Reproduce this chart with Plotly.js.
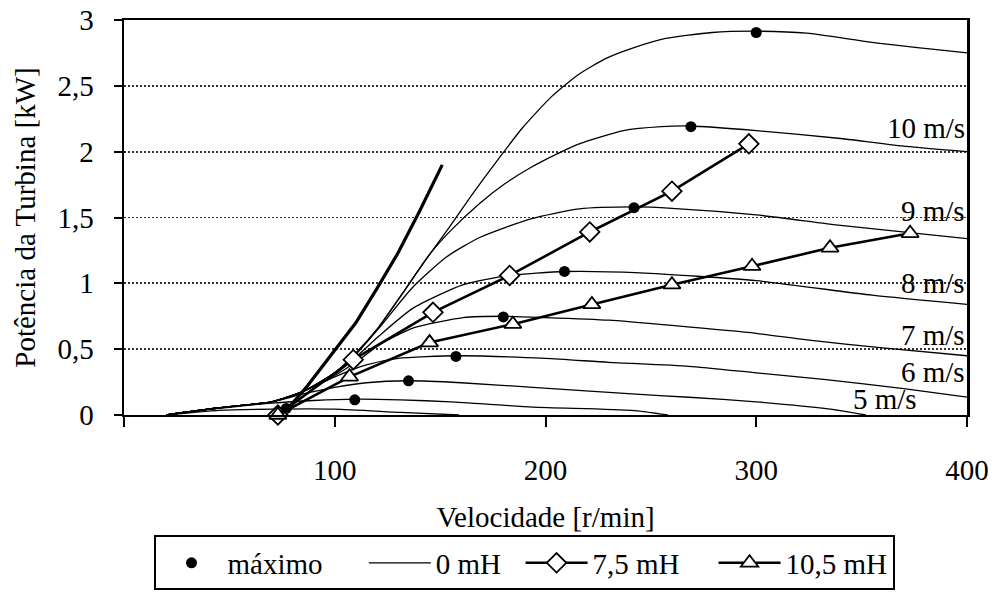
<!DOCTYPE html>
<html>
<head>
<meta charset="utf-8">
<script src="https://cdn.plot.ly/plotly-3.0.1.min.js"></script>
<style>
html,body{margin:0;padding:0;background:#fff;}
#chart{width:992px;height:603px;}
</style>
</head>
<body>
<div id="chart"></div>
<script>
// ---- data ----
const xTickVals = [0, 100, 200, 300, 400];
const xTickText = ["", "100", "200", "300", "400"];
const yTickVals = [0, 0.5, 1, 1.5, 2, 2.5, 3];
const yTickText = ["0", "0,5", "1", "1,5", "2", "2,5", "3"];

// thin curves: turbine power per wind speed (0 mH)
const c3x = [20, 45, 70, 100, 131, 159];
const c3y = [0, 0.035, 0.045, 0.045, 0.02, 0];
const c4x = [20, 45, 70, 90, 110, 131, 155, 194, 241, 258];
const c4y = [0, 0.05, 0.09, 0.11, 0.12, 0.115, 0.10, 0.06, 0.035, 0];
const c5x = [20, 45, 70, 85, 100, 115, 135, 160, 194, 241, 268, 300, 335, 352];
const c5y = [0, 0.055, 0.1, 0.16, 0.21, 0.245, 0.26, 0.245, 0.21, 0.16, 0.135, 0.1, 0.045, 0];
const c6x = [20, 45, 70, 85, 100, 115, 130, 158, 200, 230, 268, 300, 332, 370, 400];
const c6y = [0, 0.055, 0.1, 0.18, 0.29, 0.38, 0.43, 0.45, 0.43, 0.40, 0.37, 0.32, 0.27, 0.2, 0.135];
const c7x = [20, 45, 70, 85, 100, 110, 121, 137, 161, 180, 200, 230, 260, 300, 324, 360, 400];
const c7y = [0, 0.055, 0.1, 0.18, 0.3, 0.4, 0.53, 0.66, 0.74, 0.75, 0.74, 0.72, 0.68, 0.62, 0.57, 0.51, 0.45];
const c8x = [20, 45, 70, 85, 100, 110, 121, 137, 161, 183, 209, 245, 300, 355, 400];
const c8y = [0, 0.055, 0.1, 0.18, 0.31, 0.44, 0.6, 0.81, 0.99, 1.06, 1.09, 1.08, 1.02, 0.91, 0.84];
const c9x = [20, 45, 70, 85, 100, 110, 121, 137, 153, 169, 193, 216, 242, 260, 300, 340, 400];
const c9y = [0, 0.055, 0.1, 0.18, 0.32, 0.46, 0.66, 0.97, 1.2, 1.35, 1.49, 1.565, 1.58, 1.57, 1.52, 1.44, 1.34];
const c10x = [20, 45, 70, 85, 100, 110, 121, 132, 145, 155, 169, 181, 193, 205, 216, 237, 255, 269, 300, 340, 371, 400];
const c10y = [0, 0.055, 0.1, 0.18, 0.32, 0.47, 0.67, 0.92, 1.22, 1.4, 1.61, 1.76, 1.88, 1.98, 2.06, 2.16, 2.19, 2.195, 2.16, 2.10, 2.04, 2.0];
const c11x = [20, 45, 70, 85, 100, 110, 121, 132, 145, 155, 165, 177, 189, 203, 216, 229, 242, 257, 279, 300, 324, 355, 400];
const c11y = [0, 0.055, 0.1, 0.18, 0.32, 0.47, 0.67, 0.92, 1.22, 1.44, 1.67, 1.93, 2.18, 2.42, 2.59, 2.71, 2.79, 2.86, 2.905, 2.915, 2.90, 2.83, 2.75];

// maximum power points
const maxX = [77, 109.5, 135, 157.5, 180, 209, 242, 269, 300];
const maxY = [0.05, 0.115, 0.26, 0.445, 0.745, 1.09, 1.575, 2.19, 2.905];

// operating curves
const boldX = [74, 80, 87, 98, 110, 120, 130, 140, 151];
const boldY = [0, 0.09, 0.22, 0.45, 0.70, 0.96, 1.23, 1.54, 1.9];
const l75X = [73, 108.8, 146.6, 183, 221, 260, 296.5];
const l75Y = [0, 0.42, 0.78, 1.06, 1.39, 1.70, 2.06];
const l105X = [73, 107, 145, 184.5, 222, 260, 298, 335, 373];
const l105Y = [0, 0.29, 0.55, 0.69, 0.84, 0.99, 1.13, 1.27, 1.38];

// legend and curve labels
const seriesNames = ["máximo", "0 mH", "7,5 mH", "10,5 mH"];
const labelText = ["10 m/s", "9 m/s", "8 m/s", "7 m/s", "6 m/s", "5 m/s"];
const labelX = [400, 400, 400, 400, 400, 377];
const labelY = [2.18, 1.55, 1.0, 0.61, 0.33, 0.12];

// ---- build chart ----
const FONT = "Times";
const TICKFONT = "Liberation Serif";
const FS = 29;
const NB = "\u00a0";
const thin = {color: "#000", width: 1.3, shape: "spline", smoothing: 0.6};
const curves = [[c11x, c11y], [c10x, c10y], [c9x, c9y], [c8x, c8y], [c7x, c7y],
                [c6x, c6y], [c5x, c5y], [c4x, c4y], [c3x, c3y]];
const traces = curves.map((c, i) => ({
  x: c[0], y: c[1], type: "scatter", mode: "lines", line: thin,
  name: seriesNames[1] + NB.repeat(2), showlegend: i === 0, legendrank: 2
}));
traces.push({
  x: boldX, y: boldY, type: "scatter", mode: "lines",
  line: {color: "#000", width: 3.2}, showlegend: false, name: "0 mH (operação)"
});
traces.push({
  x: l75X, y: l75Y, type: "scatter", mode: "lines+markers", name: seriesNames[2] + NB.repeat(4), legendrank: 3,
  line: {color: "#000", width: 2.6}, cliponaxis: false,
  marker: {symbol: "diamond", size: 15, color: "#fff", line: {color: "#000", width: 1.8}}
});
traces.push({
  x: l105X, y: l105Y, type: "scatter", mode: "lines+markers", name: seriesNames[3], legendrank: 4,
  line: {color: "#000", width: 2.6}, cliponaxis: false,
  marker: {symbol: "triangle-up", size: 15, color: "#fff", line: {color: "#000", width: 1.8}}
});
traces.push({
  x: maxX, y: maxY, type: "scatter", mode: "markers", name: seriesNames[0] + NB.repeat(5), legendrank: 1,
  cliponaxis: false, marker: {symbol: "circle", size: 11, color: "#000"}
});

const annotations = labelText.map((t, i) => ({
  x: labelX[i], y: labelY[i], xref: "x", yref: "y", text: t, showarrow: false,
  xanchor: "right", yanchor: "middle", font: {family: FONT, size: FS, color: "#000"}
}));

const layout = {
  width: 992, height: 603,
  margin: {l: 124, r: 25, t: 20, b: 185},
  paper_bgcolor: "#fff", plot_bgcolor: "#fff",
  separators: ",.",
  showlegend: true,
  legend: {
    orientation: "h", x: 0.035, y: -0.305, xanchor: "left", yanchor: "top",
    bordercolor: "#000", borderwidth: 2, bgcolor: "#fff",
    font: {family: FONT, size: FS, color: "#000"}, itemwidth: 62, traceorder: "normal"
  },
  xaxis: {
    range: [0, 400], tickmode: "array", tickvals: xTickVals, ticktext: xTickText,
    showgrid: false, zeroline: false, showline: true, linecolor: "#000", linewidth: 2,
    mirror: true, ticks: "outside", ticklen: 10, tickwidth: 2, tickcolor: "#000",
    ticklabelstandoff: 18, ticklabeloverflow: "allow",
    title: {text: "Velocidade [r/min]", font: {family: FONT, size: FS, color: "#000"}, standoff: 22},
    tickfont: {family: TICKFONT, size: FS, color: "#000"}
  },
  yaxis: {
    range: [0, 3], tickmode: "array", tickvals: yTickVals, ticktext: yTickText,
    showgrid: true, gridcolor: "#333", griddash: "2px,2px", gridwidth: 1.8,
    zeroline: false, showline: true, linecolor: "#000", linewidth: 2.5, mirror: true,
    ticks: "outside", ticklen: 8, tickwidth: 2, tickcolor: "#000",
    ticklabelstandoff: 14,
    title: {text: "Potência da Turbina [kW]", font: {family: FONT, size: FS, color: "#000"}, standoff: 14},
    tickfont: {family: TICKFONT, size: FS, color: "#000"}
  },
  annotations: annotations
};

Plotly.newPlot("chart", traces, layout, {displayModeBar: false, staticPlot: true});
</script>
</body>
</html>
